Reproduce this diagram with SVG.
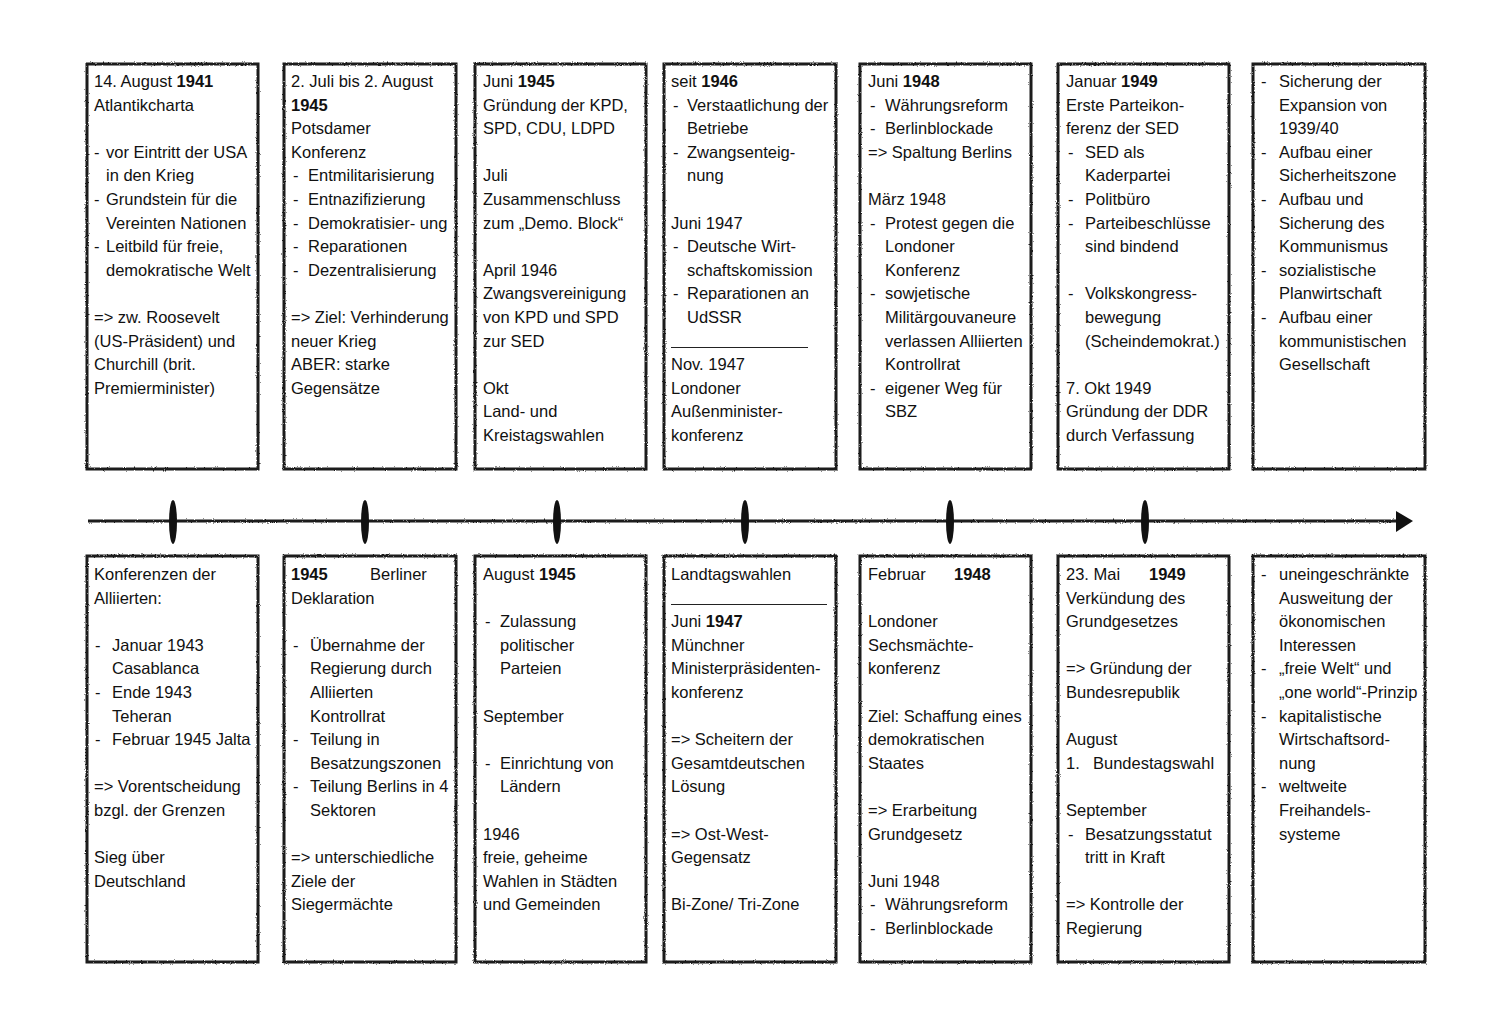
<svg xmlns="http://www.w3.org/2000/svg" width="1500" height="1026" viewBox="0 0 1500 1026">
<style>
.box{fill:#fff;stroke:#1a1a1a;stroke-width:3;filter:url(#rough)}
text{font-family:"Liberation Sans",Arial,Helvetica,sans-serif;font-size:16.5px;fill:#111}
.b{font-weight:bold}
.rule{stroke:#222;stroke-width:1}
.tl{stroke:#1a1a1a;stroke-width:3;fill:none;filter:url(#rough)}
.mk{fill:#111}
</style>
<defs>
<filter id="rough" filterUnits="userSpaceOnUse" x="0" y="0" width="1500" height="1026">
<feTurbulence type="fractalNoise" baseFrequency="0.9" numOctaves="2" seed="4" result="n"/>
<feDisplacementMap in="SourceGraphic" in2="n" scale="2.5" xChannelSelector="R" yChannelSelector="G"/>
</filter>
</defs>
<rect width="1500" height="1026" fill="#fff"/>

<g id="connectors">
<line class="tl" x1="88" y1="521" x2="1400" y2="521"/>
<polygon class="mk" points="1396,511 1413,521 1396,532"/>
<ellipse class="mk" cx="173" cy="522" rx="4" ry="22"/>
<ellipse class="mk" cx="365" cy="522" rx="4" ry="22"/>
<ellipse class="mk" cx="557" cy="522" rx="4" ry="22"/>
<ellipse class="mk" cx="745" cy="522" rx="4" ry="22"/>
<ellipse class="mk" cx="950" cy="522" rx="4" ry="22"/>
<ellipse class="mk" cx="1145" cy="522" rx="4" ry="22"/>
</g>

<g id="top1">
<rect class="box" x="87" y="64" width="171" height="405"/>
<text>
<tspan x="94" y="87">14. August <tspan class="b">1941</tspan></tspan>
<tspan x="94" y="110.6">Atlantikcharta</tspan>
<tspan x="94" y="157.8">-</tspan><tspan x="106" y="157.8">vor Eintritt der USA</tspan>
<tspan x="106" y="181.4">in den Krieg</tspan>
<tspan x="94" y="205">-</tspan><tspan x="106" y="205">Grundstein für die</tspan>
<tspan x="106" y="228.6">Vereinten Nationen</tspan>
<tspan x="94" y="252.2">-</tspan><tspan x="106" y="252.2">Leitbild für freie,</tspan>
<tspan x="106" y="275.8">demokratische Welt</tspan>
<tspan x="94" y="323">=&gt; zw. Roosevelt</tspan>
<tspan x="94" y="346.6">(US-Präsident) und</tspan>
<tspan x="94" y="370.2">Churchill (brit.</tspan>
<tspan x="94" y="393.8">Premierminister)</tspan>
</text>
</g>

<g id="top2">
<rect class="box" x="284" y="64" width="172" height="405"/>
<text>
<tspan x="291" y="87">2. Juli bis 2. August</tspan>
<tspan x="291" y="110.6" class="b">1945</tspan>
<tspan x="291" y="134.2">Potsdamer</tspan>
<tspan x="291" y="157.8">Konferenz</tspan>
<tspan x="293" y="181.4">-</tspan><tspan x="308" y="181.4">Entmilitarisierung</tspan>
<tspan x="293" y="205">-</tspan><tspan x="308" y="205">Entnazifizierung</tspan>
<tspan x="293" y="228.6">-</tspan><tspan x="308" y="228.6">Demokratisier- ung</tspan>
<tspan x="293" y="252.2">-</tspan><tspan x="308" y="252.2">Reparationen</tspan>
<tspan x="293" y="275.8">-</tspan><tspan x="308" y="275.8">Dezentralisierung</tspan>
<tspan x="291" y="323">=&gt; Ziel: Verhinderung</tspan>
<tspan x="291" y="346.6">neuer Krieg</tspan>
<tspan x="291" y="370.2">ABER: starke</tspan>
<tspan x="291" y="393.8">Gegensätze</tspan>
</text>
</g>

<g id="top3">
<rect class="box" x="475" y="64" width="171" height="405"/>
<text>
<tspan x="483" y="87">Juni <tspan class="b">1945</tspan></tspan>
<tspan x="483" y="110.6">Gründung der KPD,</tspan>
<tspan x="483" y="134.2">SPD, CDU, LDPD</tspan>
<tspan x="483" y="181.4">Juli</tspan>
<tspan x="483" y="205">Zusammenschluss</tspan>
<tspan x="483" y="228.6">zum „Demo. Block“</tspan>
<tspan x="483" y="275.8">April 1946</tspan>
<tspan x="483" y="299.4">Zwangsvereinigung</tspan>
<tspan x="483" y="323">von KPD und SPD</tspan>
<tspan x="483" y="346.6">zur SED</tspan>
<tspan x="483" y="393.8">Okt</tspan>
<tspan x="483" y="417.4">Land- und</tspan>
<tspan x="483" y="441">Kreistagswahlen</tspan>
</text>
</g>

<g id="top4">
<rect class="box" x="664" y="64" width="172" height="405"/>
<line class="rule" x1="671" y1="347.5" x2="808" y2="347.5"/>
<text>
<tspan x="671" y="87">seit <tspan class="b">1946</tspan></tspan>
<tspan x="673" y="110.6">-</tspan><tspan x="687" y="110.6">Verstaatlichung der</tspan>
<tspan x="687" y="134.2">Betriebe</tspan>
<tspan x="673" y="157.8">-</tspan><tspan x="687" y="157.8">Zwangsenteig-</tspan>
<tspan x="687" y="181.4">nung</tspan>
<tspan x="671" y="228.6">Juni 1947</tspan>
<tspan x="673" y="252.2">-</tspan><tspan x="687" y="252.2">Deutsche Wirt-</tspan>
<tspan x="687" y="275.8">schaftskomission</tspan>
<tspan x="673" y="299.4">-</tspan><tspan x="687" y="299.4">Reparationen an</tspan>
<tspan x="687" y="323">UdSSR</tspan>
<tspan x="671" y="370.2">Nov. 1947</tspan>
<tspan x="671" y="393.8">Londoner</tspan>
<tspan x="671" y="417.4">Außenminister-</tspan>
<tspan x="671" y="441">konferenz</tspan>
</text>
</g>

<g id="top5">
<rect class="box" x="860" y="64" width="171" height="405"/>
<text>
<tspan x="868" y="87">Juni <tspan class="b">1948</tspan></tspan>
<tspan x="870" y="110.6">-</tspan><tspan x="885" y="110.6">Währungsreform</tspan>
<tspan x="870" y="134.2">-</tspan><tspan x="885" y="134.2">Berlinblockade</tspan>
<tspan x="868" y="157.8">=&gt; Spaltung Berlins</tspan>
<tspan x="868" y="205">März 1948</tspan>
<tspan x="870" y="228.6">-</tspan><tspan x="885" y="228.6">Protest gegen die</tspan>
<tspan x="885" y="252.2">Londoner</tspan>
<tspan x="885" y="275.8">Konferenz</tspan>
<tspan x="870" y="299.4">-</tspan><tspan x="885" y="299.4">sowjetische</tspan>
<tspan x="885" y="323">Militärgouvaneure</tspan>
<tspan x="885" y="346.6">verlassen Alliierten</tspan>
<tspan x="885" y="370.2">Kontrollrat</tspan>
<tspan x="870" y="393.8">-</tspan><tspan x="885" y="393.8">eigener Weg für</tspan>
<tspan x="885" y="417.4">SBZ</tspan>
</text>
</g>

<g id="top6">
<rect class="box" x="1058" y="64" width="171" height="405"/>
<text>
<tspan x="1066" y="87">Januar <tspan class="b">1949</tspan></tspan>
<tspan x="1066" y="110.6">Erste Parteikon-</tspan>
<tspan x="1066" y="134.2">ferenz der SED</tspan>
<tspan x="1068" y="157.8">-</tspan><tspan x="1085" y="157.8">SED als</tspan>
<tspan x="1085" y="181.4">Kaderpartei</tspan>
<tspan x="1068" y="205">-</tspan><tspan x="1085" y="205">Politbüro</tspan>
<tspan x="1068" y="228.6">-</tspan><tspan x="1085" y="228.6">Parteibeschlüsse</tspan>
<tspan x="1085" y="252.2">sind bindend</tspan>
<tspan x="1068" y="299.4">-</tspan><tspan x="1085" y="299.4">Volkskongress-</tspan>
<tspan x="1085" y="323">bewegung</tspan>
<tspan x="1085" y="346.6">(Scheindemokrat.)</tspan>
<tspan x="1066" y="393.8">7. Okt 1949</tspan>
<tspan x="1066" y="417.4">Gründung der DDR</tspan>
<tspan x="1066" y="441">durch Verfassung</tspan>
</text>
</g>

<g id="top7">
<rect class="box" x="1253" y="64" width="172" height="405"/>
<text>
<tspan x="1261" y="87">-</tspan><tspan x="1279" y="87">Sicherung der</tspan>
<tspan x="1279" y="110.6">Expansion von</tspan>
<tspan x="1279" y="134.2">1939/40</tspan>
<tspan x="1261" y="157.8">-</tspan><tspan x="1279" y="157.8">Aufbau einer</tspan>
<tspan x="1279" y="181.4">Sicherheitszone</tspan>
<tspan x="1261" y="205">-</tspan><tspan x="1279" y="205">Aufbau und</tspan>
<tspan x="1279" y="228.6">Sicherung des</tspan>
<tspan x="1279" y="252.2">Kommunismus</tspan>
<tspan x="1261" y="275.8">-</tspan><tspan x="1279" y="275.8">sozialistische</tspan>
<tspan x="1279" y="299.4">Planwirtschaft</tspan>
<tspan x="1261" y="323">-</tspan><tspan x="1279" y="323">Aufbau einer</tspan>
<tspan x="1279" y="346.6">kommunistischen</tspan>
<tspan x="1279" y="370.2">Gesellschaft</tspan>
</text>
</g>

<g id="bot1">
<rect class="box" x="87" y="556" width="171" height="406"/>
<text>
<tspan x="94" y="580">Konferenzen der</tspan>
<tspan x="94" y="603.6">Alliierten:</tspan>
<tspan x="95" y="650.8">-</tspan><tspan x="112" y="650.8">Januar 1943</tspan>
<tspan x="112" y="674.4">Casablanca</tspan>
<tspan x="95" y="698">-</tspan><tspan x="112" y="698">Ende 1943</tspan>
<tspan x="112" y="721.6">Teheran</tspan>
<tspan x="95" y="745.2">-</tspan><tspan x="112" y="745.2">Februar 1945 Jalta</tspan>
<tspan x="94" y="792.4">=&gt; Vorentscheidung</tspan>
<tspan x="94" y="816">bzgl. der Grenzen</tspan>
<tspan x="94" y="863.2">Sieg über</tspan>
<tspan x="94" y="886.8">Deutschland</tspan>
</text>
</g>

<g id="bot2">
<rect class="box" x="284" y="556" width="172" height="406"/>
<text>
<tspan x="291" y="580" class="b">1945</tspan><tspan x="370" y="580">Berliner</tspan>
<tspan x="291" y="603.6">Deklaration</tspan>
<tspan x="293" y="650.8">-</tspan><tspan x="310" y="650.8">Übernahme der</tspan>
<tspan x="310" y="674.4">Regierung durch</tspan>
<tspan x="310" y="698">Alliierten</tspan>
<tspan x="310" y="721.6">Kontrollrat</tspan>
<tspan x="293" y="745.2">-</tspan><tspan x="310" y="745.2">Teilung in</tspan>
<tspan x="310" y="768.8">Besatzungszonen</tspan>
<tspan x="293" y="792.4">-</tspan><tspan x="310" y="792.4">Teilung Berlins in 4</tspan>
<tspan x="310" y="816">Sektoren</tspan>
<tspan x="291" y="863.2">=&gt; unterschiedliche</tspan>
<tspan x="291" y="886.8">Ziele der</tspan>
<tspan x="291" y="910.4">Siegermächte</tspan>
</text>
</g>

<g id="bot3">
<rect class="box" x="475" y="556" width="171" height="406"/>
<text>
<tspan x="483" y="580">August <tspan class="b">1945</tspan></tspan>
<tspan x="485" y="627.2">-</tspan><tspan x="500" y="627.2">Zulassung</tspan>
<tspan x="500" y="650.8">politischer</tspan>
<tspan x="500" y="674.4">Parteien</tspan>
<tspan x="483" y="721.6">September</tspan>
<tspan x="485" y="768.8">-</tspan><tspan x="500" y="768.8">Einrichtung von</tspan>
<tspan x="500" y="792.4">Ländern</tspan>
<tspan x="483" y="839.6">1946</tspan>
<tspan x="483" y="863.2">freie, geheime</tspan>
<tspan x="483" y="886.8">Wahlen in Städten</tspan>
<tspan x="483" y="910.4">und Gemeinden</tspan>
</text>
</g>

<g id="bot4">
<rect class="box" x="664" y="556" width="172" height="406"/>
<line class="rule" x1="671" y1="604.5" x2="827" y2="604.5"/>
<text>
<tspan x="671" y="580">Landtagswahlen</tspan>
<tspan x="671" y="627.2">Juni <tspan class="b">1947</tspan></tspan>
<tspan x="671" y="650.8">Münchner</tspan>
<tspan x="671" y="674.4">Ministerpräsidenten-</tspan>
<tspan x="671" y="698">konferenz</tspan>
<tspan x="671" y="745.2">=&gt; Scheitern der</tspan>
<tspan x="671" y="768.8">Gesamtdeutschen</tspan>
<tspan x="671" y="792.4">Lösung</tspan>
<tspan x="671" y="839.6">=&gt; Ost-West-</tspan>
<tspan x="671" y="863.2">Gegensatz</tspan>
<tspan x="671" y="910.4">Bi-Zone/ Tri-Zone</tspan>
</text>
</g>

<g id="bot5">
<rect class="box" x="860" y="556" width="171" height="406"/>
<text>
<tspan x="868" y="580">Februar</tspan><tspan x="954" y="580" class="b">1948</tspan>
<tspan x="868" y="627.2">Londoner</tspan>
<tspan x="868" y="650.8">Sechsmächte-</tspan>
<tspan x="868" y="674.4">konferenz</tspan>
<tspan x="868" y="721.6">Ziel: Schaffung eines</tspan>
<tspan x="868" y="745.2">demokratischen</tspan>
<tspan x="868" y="768.8">Staates</tspan>
<tspan x="868" y="816">=&gt; Erarbeitung</tspan>
<tspan x="868" y="839.6">Grundgesetz</tspan>
<tspan x="868" y="886.8">Juni 1948</tspan>
<tspan x="870" y="910.4">-</tspan><tspan x="885" y="910.4">Währungsreform</tspan>
<tspan x="870" y="934">-</tspan><tspan x="885" y="934">Berlinblockade</tspan>
</text>
</g>

<g id="bot6">
<rect class="box" x="1058" y="556" width="171" height="406"/>
<text>
<tspan x="1066" y="580">23. Mai</tspan><tspan x="1149" y="580" class="b">1949</tspan>
<tspan x="1066" y="603.6">Verkündung des</tspan>
<tspan x="1066" y="627.2">Grundgesetzes</tspan>
<tspan x="1066" y="674.4">=&gt; Gründung der</tspan>
<tspan x="1066" y="698">Bundesrepublik</tspan>
<tspan x="1066" y="745.2">August</tspan>
<tspan x="1066" y="768.8">1.</tspan><tspan x="1093" y="768.8">Bundestagswahl</tspan>
<tspan x="1066" y="816">September</tspan>
<tspan x="1068" y="839.6">-</tspan><tspan x="1085" y="839.6">Besatzungsstatut</tspan>
<tspan x="1085" y="863.2">tritt in Kraft</tspan>
<tspan x="1066" y="910.4">=&gt; Kontrolle der</tspan>
<tspan x="1066" y="934">Regierung</tspan>
</text>
</g>

<g id="bot7">
<rect class="box" x="1253" y="556" width="172" height="406"/>
<text>
<tspan x="1261" y="580">-</tspan><tspan x="1279" y="580">uneingeschränkte</tspan>
<tspan x="1279" y="603.6">Ausweitung der</tspan>
<tspan x="1279" y="627.2">ökonomischen</tspan>
<tspan x="1279" y="650.8">Interessen</tspan>
<tspan x="1261" y="674.4">-</tspan><tspan x="1279" y="674.4">„freie Welt“ und</tspan>
<tspan x="1279" y="698">„one world“-Prinzip</tspan>
<tspan x="1261" y="721.6">-</tspan><tspan x="1279" y="721.6">kapitalistische</tspan>
<tspan x="1279" y="745.2">Wirtschaftsord-</tspan>
<tspan x="1279" y="768.8">nung</tspan>
<tspan x="1261" y="792.4">-</tspan><tspan x="1279" y="792.4">weltweite</tspan>
<tspan x="1279" y="816">Freihandels-</tspan>
<tspan x="1279" y="839.6">systeme</tspan>
</text>
</g>
</svg>
